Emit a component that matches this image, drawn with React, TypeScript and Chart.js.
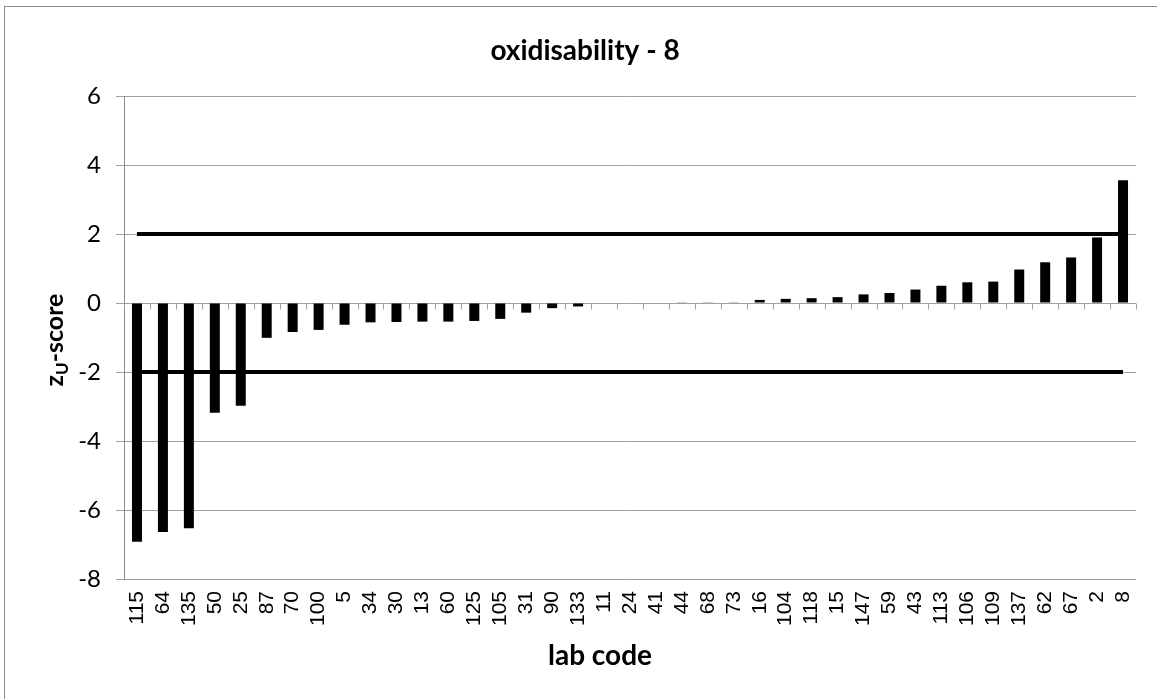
import React, { useEffect, useRef } from 'react';
import { Chart, registerables } from 'chart.js';

Chart.register(...registerables);

const labCodes: string[] = ['115','64','135','50','25','87','70','100','5','34','30','13','60','125','105','31','90','133','11','24','41','44','68','73','16','104','118','15','147','59','43','113','106','109','137','62','67','2','8'];
const zScores: number[] = [-6.92,-6.64,-6.53,-3.18,-2.98,-1.01,-0.84,-0.78,-0.63,-0.56,-0.55,-0.54,-0.54,-0.52,-0.46,-0.28,-0.15,-0.1,0,0,0,0.02,0.02,0.02,0.09,0.12,0.14,0.17,0.25,0.29,0.39,0.5,0.6,0.62,0.97,1.18,1.32,1.9,3.56];
const upperLimit = 2;
const lowerLimit = -2;
const yMin = -8;
const yMax = 6;
const yStep = 2;
const chartTitle = 'oxidisability - 8';
const xTitle = 'lab code';

const GRID = '#a0a0a0';
const AXIS = '#8a8a8a';
const CAL = 'Lato, "Open Sans", sans-serif';

const textPlugin = {
  id: 'customText',
  afterDatasetsDraw(chart: any) {
    const { ctx, scales } = chart;
    const x = scales.x, y = scales.y;
    ctx.save();
    const y0 = Math.round(y.getPixelForValue(0)) + 0.5;
    ctx.strokeStyle = GRID;
    ctx.lineWidth = 1;
    ctx.beginPath();
    for (let i = 0; i <= labCodes.length; i++) {
      const px = Math.round(x.getPixelForValue(i - 0.5)) + 0.5;
      ctx.moveTo(px, y0);
      ctx.lineTo(px, y0 + 6);
    }
    ctx.stroke();
    ctx.restore();
  },
  afterDraw(chart: any) {
    const { ctx } = chart;
    ctx.save();
    ctx.fillStyle = '#000';
    ctx.font = `bold 28px ${CAL}`;
    ctx.textAlign = 'center';
    ctx.textBaseline = 'middle';
    ctx.fillText(chartTitle, 585, 51);
    ctx.font = `bold 28px ${CAL}`;
    ctx.fillText(xTitle, 600, 656);
    ctx.translate(63, 340);
    ctx.rotate(-Math.PI / 2);
    ctx.textAlign = 'left';
    ctx.textBaseline = 'alphabetic';
    const mainFont = `bold 25px ${CAL}`;
    const subFont = `bold 17px ${CAL}`;
    ctx.font = mainFont;
    const wz = ctx.measureText('z').width;
    const wr = ctx.measureText('-score').width;
    ctx.font = subFont;
    const wu = ctx.measureText('U').width;
    const total = wz + wu + wr;
    let cx = -total / 2;
    ctx.font = mainFont;
    ctx.fillText('z', cx, 0);
    cx += wz;
    ctx.font = subFont;
    ctx.fillText('U', cx, 5);
    cx += wu;
    ctx.font = mainFont;
    ctx.fillText('-score', cx, 0);
    ctx.restore();
  },
};

export default function App() {
  const ref = useRef<HTMLCanvasElement>(null);
  useEffect(() => {
    const canvas = ref.current;
    if (!canvas) return;
    const chart = new Chart(canvas, {
      type: 'bar',
      data: {
        labels: labCodes,
        datasets: [
          {
            type: 'line',
            label: 'upper',
            data: [{ x: labCodes[0], y: upperLimit }, { x: labCodes[labCodes.length - 1], y: upperLimit }] as any,
            borderColor: '#000',
            borderWidth: 4,
            pointRadius: 0,
            fill: false,
            order: 0,
          },
          {
            type: 'line',
            label: 'lower',
            data: [{ x: labCodes[0], y: lowerLimit }, { x: labCodes[labCodes.length - 1], y: lowerLimit }] as any,
            borderColor: '#000',
            borderWidth: 4,
            pointRadius: 0,
            fill: false,
            order: 0,
          },
          {
            type: 'bar',
            label: 'z-score',
            data: zScores,
            backgroundColor: '#000',
            borderWidth: 0,
            barPercentage: 0.385,
            categoryPercentage: 1,
            order: 1,
          },
        ],
      } as any,
      options: {
        responsive: false,
        animation: false,
        devicePixelRatio: 1,
        layout: { padding: { top: 96, right: 21, bottom: 0, left: 0 } },
        plugins: { legend: { display: false }, tooltip: { enabled: false }, title: { display: false } },
        scales: {
          x: {
            type: 'category',
            offset: true,
            grid: { display: false, drawTicks: false },
            border: { display: false },
            ticks: {
              autoSkip: false,
              maxRotation: 90,
              minRotation: 90,
              padding: 12,
              color: '#000',
              font: { family: '"Liberation Sans", Arial, sans-serif', size: 21 },
            },
            afterFit: (s: any) => { s.height = 120; s.paddingLeft = 0; s.paddingRight = 0; },
          },
          y: {
            min: yMin,
            max: yMax,
            ticks: {
              stepSize: yStep,
              padding: 15,
              color: '#000',
              font: { family: CAL, size: 24 },
            },
            grid: { color: GRID, tickColor: GRID, tickLength: 8, lineWidth: 1 },
            border: { display: true, color: AXIS, width: 1 },
            afterFit: (s: any) => { s.width = 124; s.paddingTop = 0; s.paddingBottom = 0; },
          },
        },
      } as any,
      plugins: [textPlugin],
    });
    return () => chart.destroy();
  }, []);

  return (
    <div style={{ position: 'fixed', left: 0, top: 0, width: 1157, height: 699, overflow: 'hidden', background: '#fff' }}>
      <div style={{ position: 'absolute', left: 4, top: 6, width: 1200, height: 800, border: '1px solid #8c8c8c', boxSizing: 'border-box' }} />
      <canvas ref={ref} width={1157} height={699} style={{ position: 'absolute', left: 0, top: 0, width: 1157, height: 699, display: 'block' }} />
    </div>
  );
}
